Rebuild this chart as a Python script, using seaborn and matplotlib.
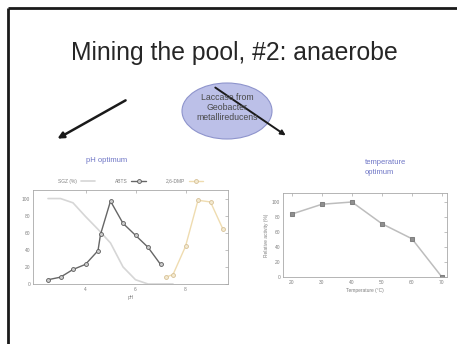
import matplotlib
matplotlib.use("Agg")
import matplotlib.pyplot as plt
from matplotlib.patches import Ellipse, FancyArrowPatch
import seaborn as sns

# pH profiles (relative activity, %)
ph_sgz = [2.5, 3.0, 3.5, 4.0, 4.5, 5.0, 5.5, 6.0, 6.5, 7.0, 7.5]
act_sgz = [100, 100, 95, 79, 64, 48, 20, 5, 0, 0, 0]
ph_abts = [2.5, 3.0, 3.5, 4.0, 4.5, 4.6, 5.0, 5.5, 6.0, 6.5, 7.0]
act_abts = [5, 8, 17, 23, 39, 58, 97, 71, 57, 43, 23]
ph_dmp = [7.2, 7.5, 8.0, 8.5, 9.0, 9.5]
act_dmp = [8, 11, 44, 98, 96, 64]
legend_labels = ["SGZ (%)", "ABTS", "2,6-DMP"]
ph_ticks = [4, 6, 8]

# temperature profile
temp_c = [20, 30, 40, 50, 60, 70]
act_temp = [84, 97, 100, 71, 51, 0]

sns.set_style("white")
plt.rcParams["font.family"] = ["Liberation Sans", "DejaVu Sans"]

W, H = 457, 344
fig = plt.figure(figsize=(W / 100, H / 100), dpi=100)
fig.patch.set_facecolor("white")

# overlay in pixel coordinates for the slide decorations
ov = fig.add_axes([0, 0, 1, 1], zorder=0)
ov.set_xlim(0, W)
ov.set_ylim(H, 0)
ov.axis("off")

# slide frame
ov.plot([8, 8], [8, H], color="#1a1a1a", lw=2.0, solid_capstyle="butt")
ov.plot([8, W], [8, 8], color="#1a1a1a", lw=2.0, solid_capstyle="butt")

ov.text(234, 53, "Mining the pool, #2: anaerobe", ha="center", va="center",
        fontsize=17.8, color="#262626")

ov.add_patch(Ellipse((227, 111), 90, 56, facecolor="#bcc0e8",
                     edgecolor="#8e94cc", lw=0.8))
for ty, line in zip([97, 107.5, 118], ["Laccase from", "Geobacter", "metallireducens"]):
    ov.text(227, ty, line, ha="center", va="center", fontsize=6.3, color="#4a4a4a")

ov.add_patch(FancyArrowPatch((213, 86), (288, 137), arrowstyle="-|>",
                             mutation_scale=7, color="#1a1a1a", lw=1.4))
ov.add_patch(FancyArrowPatch((128, 99), (55, 140), arrowstyle="-|>",
                             mutation_scale=9, color="#1a1a1a", lw=1.8))

ov.text(107, 161, "pH optimum", ha="center", va="center", fontsize=5.5, color="#6f76c6")
ov.text(365, 163, "temperature", ha="left", va="center", fontsize=5.5, color="#6f76c6")
ov.text(365, 173, "optimum", ha="left", va="center", fontsize=5.5, color="#6f76c6")


def style_axes(ax):
    for s in ax.spines.values():
        s.set_color("#a8a8a8")
        s.set_linewidth(0.6)
    ax.tick_params(direction="in", top=True, right=True, length=2, width=0.5,
                   colors="#a8a8a8", labelsize=3.5, labelcolor="#808080", pad=2)


# pH chart
ax1 = fig.add_axes([33 / W, 1 - 284 / H, 195 / W, 94 / H], zorder=2)
sns.lineplot(x=ph_sgz, y=act_sgz, ax=ax1, color="#d6d6d6", lw=1.2, label=legend_labels[0])
sns.lineplot(x=ph_abts, y=act_abts, ax=ax1, color="#666666", lw=1.0, marker="o",
             markersize=2.8, markerfacecolor="#cccccc", markeredgecolor="#5a5a5a",
             markeredgewidth=0.6, label=legend_labels[1])
sns.lineplot(x=ph_dmp, y=act_dmp, ax=ax1, color="#efdcb0", lw=1.0, marker="o",
             markersize=2.8, markerfacecolor="#f4ead0", markeredgecolor="#d6c096",
             markeredgewidth=0.6, label=legend_labels[2])
ax1.set_xlim(1.9, 9.7)
ax1.set_ylim(0, 110)
ax1.set_xticks(ph_ticks)
ax1.set_yticks([0, 20, 40, 60, 80, 100])
ax1.set_xlabel("pH", fontsize=3.5, color="#808080", labelpad=2)
ax1.set_ylabel("")
style_axes(ax1)
ax1.legend(loc="lower center", bbox_to_anchor=(0.5, 1.02), ncol=3, frameon=False,
           markerfirst=False, fontsize=3.5, handlelength=3, columnspacing=4,
           handletextpad=0.8, labelcolor="#808080")

# temperature chart
ax2 = fig.add_axes([283 / W, 1 - 277 / H, 164 / W, 84 / H], zorder=2)
sns.lineplot(x=temp_c, y=act_temp, ax=ax2, color="#bdbdbd", lw=1.1, marker="s",
             markersize=2.3, markerfacecolor="#909090", markeredgecolor="#808080")
ax2.set_xlim(17, 71.7)
ax2.set_ylim(0, 112)
ax2.set_xticks(temp_c)
ax2.set_yticks([0, 20, 40, 60, 80, 100])
ax2.set_xlabel("Temperature (°C)", fontsize=3.5, color="#808080", labelpad=2)
ax2.set_ylabel("Relative activity (%)", fontsize=3.5, color="#808080", labelpad=2)
style_axes(ax2)

fig.savefig("out.png", dpi=100, facecolor="white")
